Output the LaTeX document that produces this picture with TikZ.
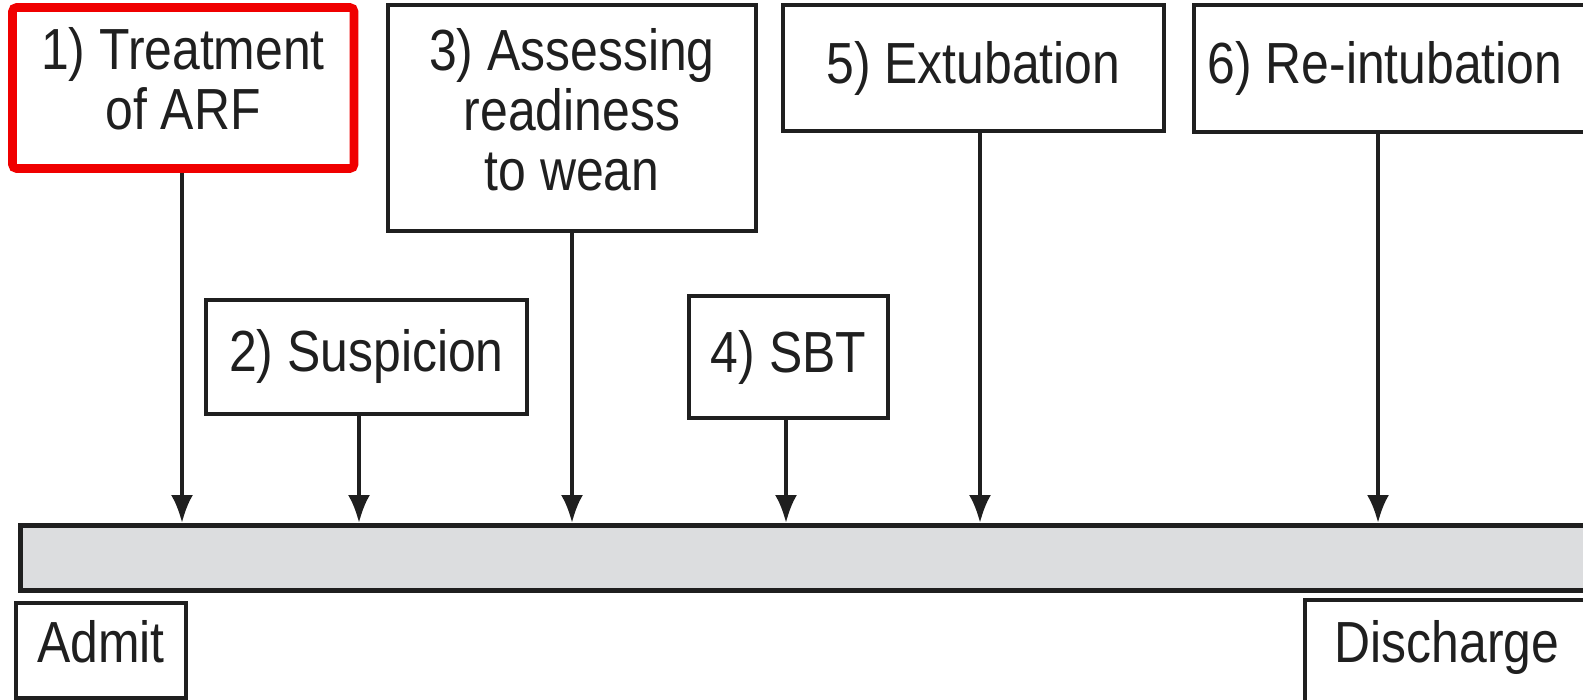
\documentclass[tikz,border=0pt]{standalone}
\usepackage{fontspec}
\newfontfamily\lab[FakeStretch=0.86]{Liberation Sans}
\usetikzlibrary{arrows.meta}
\definecolor{bargray}{HTML}{DCDDDF}
\definecolor{redbox}{HTML}{F00000}
\begin{document}
\begin{tikzpicture}[x=0.5pt,y=-0.5pt,
  lbl/.style={font=\lab\fontsize{29}{30}\selectfont, align=center, inner sep=0pt, text=black!88},
  stagebox/.style={lbl, draw=black!88, line width=2.2pt, rectangle},
  arr/.style={draw=black!88, line width=2pt, -{Latex[length=14pt,width=11pt]}}]
\useasboundingbox (0,0) rectangle (1583,700);
% timeline bar
\node[draw=black!88, line width=2.4pt, fill=bargray, minimum width=1600*0.5pt, minimum height=65*0.5pt, inner sep=0pt, anchor=north west] (bar) at (18,523) {};
% stage boxes
\node[stagebox, draw=redbox, line width=4.3pt, rounded corners=2pt, minimum width=341.5*0.5pt, minimum height=161*0.5pt] (b1) at (183.25,88) {};
\node[lbl] (b1t) at (183,79) {1) Treatment\\of ARF};
\node[stagebox, minimum width=321*0.5pt, minimum height=114*0.5pt] (b2) at (366.5,357) {2) Suspicion};
\node[stagebox, minimum width=368*0.5pt, minimum height=226*0.5pt] (b3) at (572,118) {};
\node[lbl] (b3t) at (572,110) {3) Assessing\\readiness\\to wean};
\node[stagebox, minimum width=199*0.5pt, minimum height=122*0.5pt] (b4) at (788.5,357) {4) SBT};
\node[stagebox, minimum width=381*0.5pt, minimum height=126*0.5pt] (b5) at (973.5,68) {5) Extubation};
\node[stagebox, minimum width=420*0.5pt, minimum height=127*0.5pt, anchor=west] (b6) at (1192,68.5) {};
\node[lbl] (b6t) at (1385,68.5) {6) Re-intubation};
% end boxes
\node[stagebox, minimum width=170*0.5pt, minimum height=95*0.5pt] (adm) at (101,650.5) {};
\node[lbl] (admt) at (101,642) {Admit};
\node[stagebox, minimum width=320*0.5pt, minimum height=108*0.5pt, anchor=north west] (dis) at (1303,598) {};
\node[lbl] (dist) at (1447,647.5) {Discharge};
% arrow targets on bar
\coordinate (t1) at (182,523);
\coordinate (t2) at (359,523);
\coordinate (t3) at (572,523);
\coordinate (t4) at (786,523);
\coordinate (t5) at (980,523);
\coordinate (t6) at (1378,523);
\draw[arr] (b1.south -| t1) -- (t1);
\draw[arr] (b2.south -| t2) -- (t2);
\draw[arr] (b3.south -| t3) -- (t3);
\draw[arr] (b4.south -| t4) -- (t4);
\draw[arr] (b5.south -| t5) -- (t5);
\draw[arr] (b6.south -| t6) -- (t6);
\end{tikzpicture}
\end{document}
